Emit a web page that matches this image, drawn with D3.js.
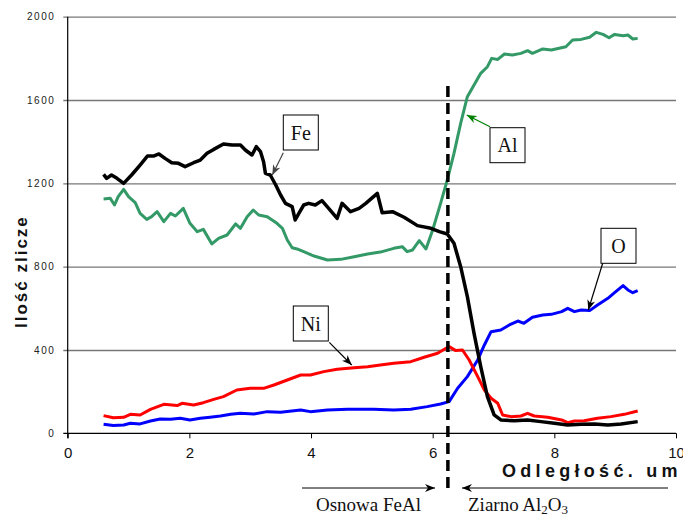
<!DOCTYPE html>
<html>
<head>
<meta charset="utf-8">
<script src="https://cdn.jsdelivr.net/npm/d3@7"></script>
<style>
body { margin: 0; background: #fff; }
svg { display: block; }
.ytick text { font-family: Arial, "Liberation Sans", sans-serif; font-size: 10px; letter-spacing: 1.5px; fill: #222; }
.xtick text { font-family: Arial, "Liberation Sans", sans-serif; font-size: 15px; fill: #111; }
.lbl { font-family: "Times New Roman", "Liberation Serif", serif; font-size: 20px; fill: #111; }
.note { font-family: "Times New Roman", "Liberation Serif", serif; font-size: 19px; fill: #111; }
</style>
</head>
<body>
<svg></svg>
<script>

// distance (um) / counts
var feX = [0.59,0.64,0.72,0.81,0.92,1.05,1.19,1.31,1.41,1.50,1.60,1.71,1.82,1.93,2.07,2.18,2.29,2.40,2.56,2.70,2.84,2.92,3.03,3.10,3.17,3.22,3.25,3.33,3.42,3.50,3.58,3.69,3.74,3.80,3.88,3.96,4.07,4.18,4.29,4.43,4.51,4.65,4.79,4.90,5.09,5.17,5.34,5.53,5.75,5.97,6.11,6.24,6.35,6.46,6.57,6.68,6.79,6.90,7.01,7.12,7.34,7.56,7.78,8.00,8.22,8.44,8.66,8.88,9.10,9.37];
var feY = [1243,1224,1240,1224,1200,1240,1288,1331,1331,1341,1320,1299,1296,1280,1299,1312,1344,1363,1389,1384,1384,1360,1336,1376,1352,1304,1248,1240,1192,1144,1104,1088,1024,1056,1096,1104,1096,1117,1080,1032,1104,1064,1080,1104,1152,1059,1064,1037,997,984,968,957,912,800,656,480,320,176,88,64,60,64,56,48,40,43,45,40,45,56];

var alX = [0.59,0.70,0.77,0.83,0.92,1.00,1.11,1.19,1.30,1.38,1.47,1.58,1.69,1.77,1.90,2.01,2.13,2.23,2.37,2.48,2.62,2.76,2.84,2.95,3.05,3.14,3.28,3.44,3.53,3.61,3.69,3.77,3.88,4.05,4.27,4.49,4.71,4.93,5.14,5.36,5.50,5.58,5.67,5.78,5.89,6.00,6.13,6.24,6.35,6.46,6.57,6.68,6.79,6.90,6.97,7.07,7.18,7.31,7.45,7.56,7.64,7.81,7.95,8.19,8.30,8.44,8.58,8.69,8.80,8.90,8.99,9.13,9.21,9.29,9.37];
var alY = [1125,1128,1096,1136,1171,1136,1107,1056,1027,1040,1064,1016,1056,1043,1080,1008,968,979,909,936,952,1005,984,1040,1072,1048,1040,1008,984,928,891,885,872,851,832,835,848,861,870,888,896,872,880,925,885,976,1104,1216,1344,1488,1616,1672,1728,1760,1800,1795,1821,1816,1824,1837,1824,1845,1840,1856,1888,1891,1901,1925,1915,1899,1915,1909,1912,1893,1896];

var oX = [0.59,0.75,0.92,1.03,1.19,1.36,1.52,1.69,1.85,2.01,2.18,2.34,2.51,2.68,2.84,3.06,3.28,3.50,3.83,3.99,4.27,4.60,5.03,5.36,5.64,5.91,6.13,6.27,6.41,6.57,6.74,6.85,6.96,7.12,7.26,7.40,7.50,7.64,7.81,7.95,8.12,8.22,8.33,8.44,8.58,8.71,8.88,8.99,9.13,9.21,9.29,9.37];
var oY = [43,37,40,48,45,59,69,67,72,64,72,77,83,91,96,93,104,101,112,104,112,115,115,112,115,128,141,152,216,272,352,424,488,496,520,539,528,557,568,571,584,600,584,592,589,616,648,675,709,688,675,685];

var niX = [0.59,0.75,0.92,1.03,1.19,1.36,1.58,1.80,1.88,2.07,2.23,2.40,2.56,2.78,3.00,3.22,3.39,3.61,3.83,3.99,4.21,4.43,4.71,4.93,5.14,5.36,5.64,5.86,6.08,6.22,6.27,6.38,6.49,6.60,6.74,6.85,6.96,7.07,7.15,7.29,7.45,7.56,7.67,7.89,8.12,8.22,8.33,8.49,8.71,8.93,9.15,9.37];
var niY = [85,75,77,91,88,115,139,133,144,136,147,163,176,208,216,216,232,256,280,280,296,307,315,320,328,336,344,365,384,408,416,397,400,352,272,208,168,144,88,80,83,96,83,77,64,51,59,60,72,80,91,107];

var xTicks = [0, 2, 4, 6, 8, 10];
var yTicks = [0, 400, 800, 1200, 1600, 2000];
var boundaryX = 6.25;

var W = 683, H = 518;
var svg = d3.select("svg").attr("width", W).attr("height", H);

var x = d3.scaleLinear().domain([0, 10]).range([67.7, 676]);
var y = d3.scaleLinear().domain([0, 2000]).range([433.3, 16.7]);

// markers
var defs = svg.append("defs");
function marker(id, col) {
  defs.append("marker")
    .attr("id", id)
    .attr("viewBox", "0 0 10 8")
    .attr("refX", 10).attr("refY", 4)
    .attr("markerWidth", 10).attr("markerHeight", 8)
    .attr("markerUnits", "userSpaceOnUse")
    .attr("orient", "auto")
    .append("path")
    .attr("d", "M0,0 L10,4 L0,8 L3,4 Z")
    .attr("fill", col);
}
marker("ah-black", "#000");
marker("ah-gray", "#444");
marker("ah-green", "#008000");

// gridlines + y labels
var yAxis = d3.axisLeft(y).tickValues(yTicks.slice(1)).tickFormat(d3.format("d"))
  .tickSize(-(676 - 63.3)).tickPadding(8);
var gy = svg.append("g").attr("class", "ytick")
  .attr("transform", "translate(63.3,0)").call(yAxis);
gy.select(".domain").remove();
gy.selectAll("line").attr("stroke", "#777").attr("stroke-width", 1.3);
// zero label
gy.append("text").attr("x", -8).attr("y", y(0)).attr("dy", "0.35em")
  .attr("text-anchor", "end").text("0");

// x axis
var xAxis = d3.axisBottom(x).tickValues(xTicks).tickFormat(d3.format("d"))
  .tickSize(5).tickPadding(9).tickSizeOuter(0);
var gx = svg.append("g").attr("class", "xtick")
  .attr("transform", "translate(0," + y(0) + ")").call(xAxis);
gx.select(".domain").remove();
gx.selectAll("line").attr("stroke", "#000");
svg.append("line").attr("x1", 63.3).attr("x2", 676).attr("y1", y(0)).attr("y2", y(0))
  .attr("stroke", "#000").attr("stroke-width", 1.2);
svg.append("line").attr("x1", x(0)).attr("x2", x(0)).attr("y1", y(2000)).attr("y2", y(0) + 5)
  .attr("stroke", "#000").attr("stroke-width", 1.2);

// axis titles
svg.append("text")
  .attr("transform", "translate(27," + 328 + ") rotate(-90)")
  .attr("font-family", "Arial, 'Liberation Sans', sans-serif")
  .attr("font-weight", "bold").attr("font-size", 17)
  .attr("letter-spacing", "2px").attr("fill", "#111")
  .text("Ilość zlicze");

svg.append("text")
  .attr("x", 502).attr("y", 477)
  .attr("font-family", "Arial, 'Liberation Sans', sans-serif")
  .attr("font-weight", "bold").attr("font-size", 18)
  .attr("letter-spacing", "4.3px").attr("fill", "#111")
  .text("Odległość. um");

// series
var line = d3.line().x(function(d) { return x(d[0]); }).y(function(d) { return y(d[1]); });
function series(xs, ys, col, w) {
  svg.append("path")
    .datum(d3.zip(xs, ys))
    .attr("d", line)
    .attr("fill", "none")
    .attr("stroke", col)
    .attr("stroke-width", w)
    .attr("stroke-linejoin", "round");
}
series(oX, oY, "#0000ff", 3);
series(niX, niY, "#ff0000", 3);
series(alX, alY, "#339966", 3);
series(feX, feY, "#000000", 3.5);

// boundary line
svg.append("line")
  .attr("x1", x(boundaryX)).attr("x2", x(boundaryX))
  .attr("y1", 86).attr("y2", 492)
  .attr("stroke", "#000").attr("stroke-width", 3.5)
  .attr("stroke-dasharray", "11,6");

// bottom arrows and notes
svg.append("line").attr("x1", 302).attr("x2", 435).attr("y1", 488).attr("y2", 488)
  .attr("stroke", "#000").attr("stroke-width", 1).attr("marker-end", "url(#ah-black)");
svg.append("line").attr("x1", 668).attr("x2", 462).attr("y1", 488).attr("y2", 488)
  .attr("stroke", "#000").attr("stroke-width", 1).attr("marker-end", "url(#ah-black)");

svg.append("text").attr("class", "note").attr("x", 316).attr("y", 511).text("Osnowa FeAl");
var zt = svg.append("text").attr("class", "note").attr("x", 468).attr("y", 511);
zt.append("tspan").text("Ziarno Al");
zt.append("tspan").attr("font-size", 13).attr("dy", 3).text("2");
zt.append("tspan").attr("dy", -3).text("O");
zt.append("tspan").attr("font-size", 13).attr("dy", 3).text("3");

// callout labels
var callouts = [
  { t: "Fe", bx: 283.3, by: 115, ax1: 283.3, ay1: 152.7, ax2: 272.3, ay2: 175, col: "#444", m: "ah-gray" },
  { t: "Al", bx: 490, by: 127.7, ax1: 490, ay1: 126.7, ax2: 466.7, ay2: 115, col: "#008000", m: "ah-green" },
  { t: "O", bx: 601, by: 228.3, ax1: 602.7, ay1: 263.3, ax2: 588.3, ay2: 310, col: "#000", m: "ah-black" },
  { t: "Ni", bx: 293.3, by: 306, ax1: 329.3, ay1: 342.3, ax2: 351.7, ay2: 365, col: "#000", m: "ah-black" }
];
callouts.forEach(function(c) {
  svg.append("line")
    .attr("x1", c.ax1).attr("y1", c.ay1).attr("x2", c.ax2).attr("y2", c.ay2)
    .attr("stroke", c.col).attr("stroke-width", 1.2)
    .attr("marker-end", "url(#" + c.m + ")");
  svg.append("rect")
    .attr("x", c.bx).attr("y", c.by).attr("width", 35).attr("height", 35)
    .attr("fill", "#fff").attr("stroke", "#000").attr("stroke-width", 1);
  svg.append("text").attr("class", "lbl")
    .attr("x", c.bx + 17.5).attr("y", c.by + 24.5)
    .attr("text-anchor", "middle").text(c.t);
});

</script>
</body>
</html>
